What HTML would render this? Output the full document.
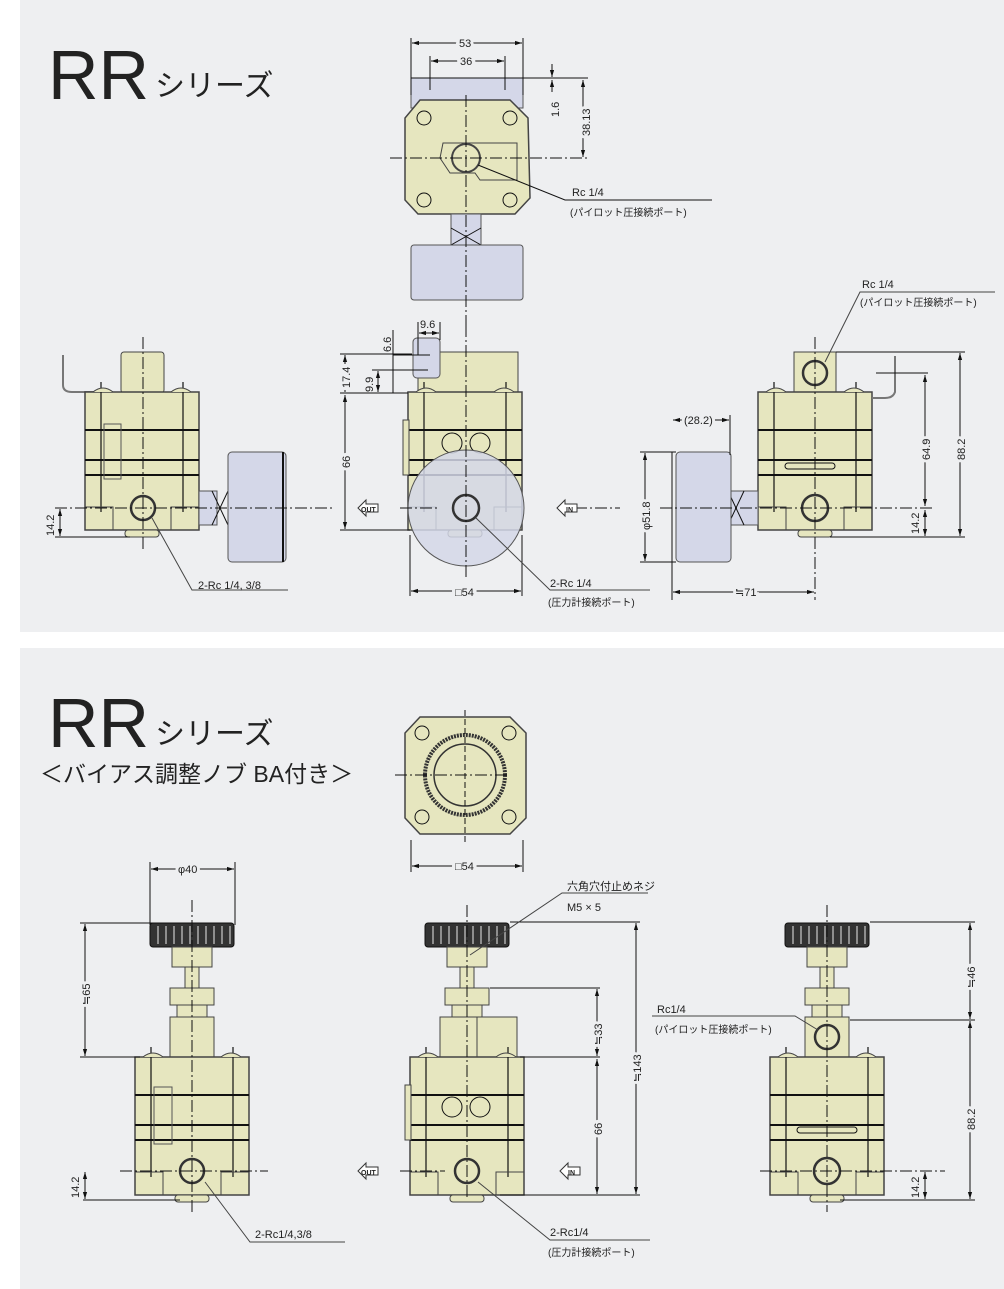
<!DOCTYPE html>
<html><head><meta charset="utf-8"><style>
body{margin:0;background:#fff;width:1004px;height:1289px;overflow:hidden}
svg{display:block}
text{font-family:"Liberation Sans","Noto Sans CJK JP",sans-serif;fill:#222}
</style></head><body>
<svg width="1004" height="1289" viewBox="0 0 1004 1289" xmlns="http://www.w3.org/2000/svg">
<defs>
<marker id="a" viewBox="0 0 10 10" refX="10" refY="5" markerWidth="7" markerHeight="7" orient="auto-start-reverse"><path d="M0,2 L10,5 L0,8z" fill="#111"/></marker>
<g id="body">
<rect x="0" y="0" width="114" height="138" fill="#e6e6bf" stroke="#444" stroke-width="1.5"/>
<line x1="0" y1="38" x2="114" y2="38" stroke="#111" stroke-width="2"/>
<line x1="0" y1="68" x2="114" y2="68" stroke="#111" stroke-width="2"/>
<line x1="0" y1="83" x2="114" y2="83" stroke="#111" stroke-width="2"/>
<line x1="16" y1="-10" x2="16" y2="120" stroke="#111" stroke-width="1.2"/>
<line x1="98" y1="-10" x2="98" y2="120" stroke="#111" stroke-width="1.2"/>
<path d="M0,115 H28 V138 M114,115 H86 V138" fill="none" stroke="#444"/>
<path d="M8,0 q10,-8 20,0 M86,0 q10,-8 20,0" fill="#e6e6bf" stroke="#444"/>
<rect x="40" y="138" width="34" height="7" rx="3" fill="#e6e6bf" stroke="#444"/>
</g>
<g id="knob">
<rect x="0" y="0" width="84" height="24" rx="3" fill="#333"/>
<g stroke="#ccc" stroke-width="1.2">
<line x1="8" y1="3" x2="8" y2="21"/><line x1="16" y1="3" x2="16" y2="21"/><line x1="24" y1="3" x2="24" y2="21"/><line x1="32" y1="3" x2="32" y2="21"/><line x1="40" y1="3" x2="40" y2="21"/><line x1="48" y1="3" x2="48" y2="21"/><line x1="56" y1="3" x2="56" y2="21"/><line x1="64" y1="3" x2="64" y2="21"/><line x1="72" y1="3" x2="72" y2="21"/><line x1="80" y1="3" x2="80" y2="21"/></g>
<rect x="22" y="24" width="40" height="20" fill="#e6e6bf" stroke="#444"/>
<rect x="35" y="44" width="14" height="21" fill="#e6e6bf" stroke="#444"/>
<rect x="20" y="65" width="44" height="17" fill="#e6e6bf" stroke="#444"/>
<rect x="27" y="82" width="30" height="12" fill="#e6e6bf" stroke="#444"/>
</g>
</defs>

<rect x="20" y="0" width="984" height="632" fill="#eeeff1"/>
<rect x="20" y="648" width="984" height="641" fill="#eeeff1"/>

<!-- titles -->
<text x="48" y="99" font-size="70">RR</text><text x="155" y="96" font-size="30">シリーズ</text>
<text x="48" y="747" font-size="70">RR</text><text x="155" y="744" font-size="30">シリーズ</text>
<text x="40" y="782" font-size="23">＜バイアス調整ノブ  BA付き＞</text>

<g stroke="#111" stroke-width="1" fill="none">
<!-- ===== TOP: top view ===== -->
<rect x="411" y="78" width="112" height="30" fill="#d4d7e8" stroke="#555"/>
<path d="M420,100 L510,100 L528,118 L530,198 L515,214 L418,214 L405,200 L405,118z" fill="#e6e6bf" stroke="#444" stroke-width="1.5"/>
<path d="M443,143 L517,143 L517,180 L480,180 L475,173 L450,173 L440,158z" fill="#e6e6bf" stroke="#444"/>
<circle cx="466" cy="158" r="14" fill="#e6e6bf" stroke="#444" stroke-width="2"/>
<circle cx="424" cy="118" r="7"/><circle cx="510" cy="118" r="7"/><circle cx="424" cy="200" r="7"/><circle cx="510" cy="200" r="7"/>
<rect x="451" y="214" width="30" height="31" fill="#d4d7e8" stroke="#555"/>
<path d="M451,228 L481,245 M481,228 L451,245"/>
<rect x="411" y="245" width="112" height="55" rx="3" fill="#d4d7e8" stroke="#555"/>
<line x1="466" y1="95" x2="466" y2="330" stroke-dasharray="12,3,2,3"/>
<line x1="390" y1="158" x2="590" y2="158" stroke-dasharray="12,3,2,3"/>
<line x1="411" y1="38" x2="411" y2="95"/><line x1="523" y1="38" x2="523" y2="95"/>
<line x1="412" y1="43" x2="522" y2="43" marker-start="url(#a)" marker-end="url(#a)"/>
<line x1="430" y1="56" x2="430" y2="90"/><line x1="505" y1="56" x2="505" y2="90"/>
<line x1="431" y1="61" x2="504" y2="61" marker-start="url(#a)" marker-end="url(#a)"/>
<line x1="411" y1="78" x2="588" y2="78"/>
<line x1="552" y1="64" x2="552" y2="77" marker-end="url(#a)"/><line x1="552" y1="92" x2="552" y2="80" marker-end="url(#a)"/>
<line x1="583" y1="80" x2="583" y2="157" marker-start="url(#a)" marker-end="url(#a)"/>
<path d="M478,165 L565,200 L712,200"/>

<!-- ===== TOP: left view ===== -->
<path d="M63,355 V385 Q63,392 72,392 H95" stroke="#777" stroke-width="2"/>
<rect x="121" y="352" width="43" height="41" rx="3" fill="#e6e6bf" stroke="#444"/>
<use href="#body" x="85" y="392"/>
<rect x="104" y="424" width="17" height="55" fill="none" stroke="#555"/>
<circle cx="143" cy="508" r="12" stroke-width="2.5" stroke="#333"/>
<rect x="199" y="491" width="18" height="34" fill="#d4d7e8" stroke="#555"/><path d="M212,491 L228,525 M228,491 L212,525"/>
<rect x="228" y="452" width="58" height="110" rx="4" fill="#d4d7e8" stroke="#555"/>
<line x1="283" y1="452" x2="283" y2="562" stroke-width="2"/>
<line x1="143" y1="337" x2="143" y2="550" stroke-dasharray="12,3,2,3"/>
<line x1="55" y1="508" x2="335" y2="508" stroke-dasharray="12,3,2,3"/>
<line x1="55" y1="537" x2="130" y2="537"/>
<line x1="60" y1="509" x2="60" y2="536" marker-start="url(#a)" marker-end="url(#a)"/>
<path d="M152,518 L192,590 L288,590" stroke="#444"/>

<!-- ===== TOP: front view ===== -->
<rect x="418" y="352" width="100" height="41" fill="#e6e6bf" stroke="#444"/>
<rect x="413" y="338" width="27" height="40" rx="4" fill="#d4d7e8" stroke="#555"/>
<use href="#body" x="408" y="392"/>
<rect x="403" y="420" width="6" height="55" fill="#e6e6bf" stroke="#444"/>
<circle cx="452" cy="443" r="10"/><circle cx="480" cy="443" r="10"/>
<circle cx="466" cy="508" r="58" fill="#d4d7e8" fill-opacity="0.85" stroke="#555"/>
<circle cx="466" cy="508" r="13" stroke-width="2.5" stroke="#333"/>
<line x1="466" y1="325" x2="466" y2="580" stroke-dasharray="12,3,2,3"/>
<line x1="575" y1="508" x2="620" y2="508" stroke-dasharray="12,3,2,3"/>
<line x1="400" y1="508" x2="440" y2="508" stroke-dasharray="12,3,2,3"/>
<line x1="340" y1="354" x2="412" y2="354"/><line x1="340" y1="393" x2="408" y2="393"/><line x1="340" y1="530" x2="410" y2="530"/>
<line x1="345" y1="355" x2="345" y2="392" marker-start="url(#a)" marker-end="url(#a)"/>
<line x1="345" y1="395" x2="345" y2="529" marker-start="url(#a)" marker-end="url(#a)"/>
<line x1="372" y1="370" x2="428" y2="370"/>
<line x1="378" y1="371" x2="378" y2="392" marker-start="url(#a)" marker-end="url(#a)"/>
<line x1="393" y1="355" x2="430" y2="355"/>
<line x1="393" y1="330" x2="393" y2="393" />
<line x1="418" y1="322" x2="418" y2="355"/><line x1="440" y1="322" x2="440" y2="340"/>
<line x1="419" y1="333" x2="439" y2="333" marker-start="url(#a)" marker-end="url(#a)"/>
<line x1="410" y1="535" x2="410" y2="596"/><line x1="522" y1="535" x2="522" y2="596"/>
<line x1="411" y1="591" x2="521" y2="591" marker-start="url(#a)" marker-end="url(#a)"/>
<path d="M476,518 L550,590 L650,590" stroke="#444"/>
<path d="M358,508 l8,-8 v4 h12 v8 h-12 v4z" fill="#fff" stroke="#333"/>
<path d="M557,508 l8,-8 v4 h12 v8 h-12 v4z" fill="#fff" stroke="#333"/>

<!-- ===== TOP: right view ===== -->
<rect x="794" y="352" width="42" height="41" fill="#e6e6bf" stroke="#444"/>
<circle cx="815" cy="373" r="12" stroke-width="2.5" stroke="#333"/>
<use href="#body" x="758" y="392"/>
<rect x="785" y="463" width="50" height="6" rx="3"/>
<circle cx="815" cy="508" r="13" stroke-width="2.5" stroke="#333"/>
<path d="M895,356 V392 Q893,398 885,398 H872" stroke="#777" stroke-width="2"/>
<rect x="730" y="491" width="28" height="34" fill="#d4d7e8" stroke="#555"/><path d="M728,491 L744,525 M744,491 L728,525"/>
<rect x="676" y="452" width="55" height="110" rx="4" fill="#d4d7e8" stroke="#555"/>
<line x1="672" y1="452" x2="672" y2="600"/>
<line x1="815" y1="337" x2="815" y2="600" stroke-dasharray="12,3,2,3"/>
<line x1="660" y1="508" x2="935" y2="508" stroke-dasharray="12,3,2,3"/>
<line x1="836" y1="352" x2="965" y2="352"/><line x1="876" y1="373" x2="928" y2="373"/><line x1="830" y1="537" x2="965" y2="537"/>
<line x1="960" y1="353" x2="960" y2="536" marker-start="url(#a)" marker-end="url(#a)"/>
<line x1="925" y1="375" x2="925" y2="506" marker-start="url(#a)" marker-end="url(#a)"/>
<line x1="925" y1="510" x2="925" y2="536" marker-start="url(#a)" marker-end="url(#a)"/>
<line x1="640" y1="452" x2="676" y2="452"/><line x1="640" y1="562" x2="676" y2="562"/>
<line x1="645" y1="453" x2="645" y2="561" marker-start="url(#a)" marker-end="url(#a)"/>
<line x1="730" y1="415" x2="730" y2="455"/>
<line x1="673" y1="420" x2="729" y2="420" marker-start="url(#a)" marker-end="url(#a)"/>
<line x1="673" y1="592" x2="814" y2="592" marker-start="url(#a)" marker-end="url(#a)"/>
<path d="M825,362 L860,292 L995,292" stroke="#444"/>

<!-- ===== BOTTOM: top view ===== -->
<path d="M420,717 L510,717 L526,733 L526,818 L510,834 L420,834 L405,818 L405,733z" fill="#e6e6bf" stroke="#444" stroke-width="1.5"/>
<circle cx="465" cy="775" r="40" fill="#e6e6bf" stroke="#333" stroke-width="4" stroke-dasharray="2,1"/>
<circle cx="465" cy="775" r="31" fill="#e6e6bf" stroke="#333" stroke-width="1.5"/>
<circle cx="422" cy="733" r="7"/><circle cx="509" cy="733" r="7"/><circle cx="422" cy="817" r="7"/><circle cx="509" cy="817" r="7"/>
<line x1="465" y1="710" x2="465" y2="845" stroke-dasharray="6,3"/>
<line x1="395" y1="775" x2="510" y2="775" stroke-dasharray="12,3,2,3"/>
<line x1="411" y1="840" x2="411" y2="872"/><line x1="523" y1="840" x2="523" y2="872"/>
<line x1="412" y1="866" x2="522" y2="866" marker-start="url(#a)" marker-end="url(#a)"/>

<!-- ===== BOTTOM: left ===== -->
<use href="#knob" x="150" y="923"/>
<rect x="170" y="1017" width="44" height="40" fill="#e6e6bf" stroke="#444"/>
<use href="#body" x="135" y="1057"/>
<rect x="154" y="1087" width="18" height="57" fill="none" stroke="#555"/>
<circle cx="192" cy="1171" r="12" stroke-width="2.5" stroke="#333"/>
<line x1="192" y1="900" x2="192" y2="1212" stroke-dasharray="12,3,2,3"/>
<line x1="120" y1="1171" x2="268" y2="1171" stroke-dasharray="12,3,2,3"/>
<line x1="150" y1="862" x2="150" y2="925"/><line x1="235" y1="862" x2="235" y2="925"/>
<line x1="151" y1="869" x2="234" y2="869" marker-start="url(#a)" marker-end="url(#a)"/>
<line x1="80" y1="923" x2="200" y2="923"/><line x1="80" y1="1057" x2="140" y2="1057"/>
<line x1="85" y1="924" x2="85" y2="1056" marker-start="url(#a)" marker-end="url(#a)"/>
<line x1="83" y1="1200" x2="180" y2="1200"/>
<line x1="85" y1="1172" x2="85" y2="1199" marker-start="url(#a)" marker-end="url(#a)"/>
<path d="M205,1182 L250,1242 L345,1242" stroke="#444"/>

<!-- ===== BOTTOM: middle ===== -->
<use href="#knob" x="425" y="923"/>
<rect x="440" y="1017" width="37" height="40" fill="#e6e6bf" stroke="#444"/>
<rect x="477" y="1017" width="40" height="40" fill="#e6e6bf" stroke="#444"/>
<use href="#body" x="410" y="1057"/>
<rect x="405" y="1085" width="6" height="55" fill="#e6e6bf" stroke="#444"/>
<circle cx="452" cy="1107" r="10"/><circle cx="480" cy="1107" r="10"/>
<circle cx="467" cy="1171" r="12" stroke-width="2.5" stroke="#333"/>
<line x1="467" y1="905" x2="467" y2="1200" stroke-dasharray="12,3,2,3"/>
<line x1="400" y1="1171" x2="445" y2="1171" stroke-dasharray="12,3,2,3"/>
<line x1="510" y1="922" x2="640" y2="922"/><line x1="490" y1="988" x2="600" y2="988"/><line x1="520" y1="1057" x2="600" y2="1057"/><line x1="500" y1="1195" x2="640" y2="1195"/>
<line x1="636" y1="923" x2="636" y2="1194" marker-start="url(#a)" marker-end="url(#a)"/>
<line x1="597" y1="989" x2="597" y2="1056" marker-start="url(#a)" marker-end="url(#a)"/>
<line x1="597" y1="1059" x2="597" y2="1194" marker-start="url(#a)" marker-end="url(#a)"/>
<path d="M470,955 L562,893 L648,893" stroke="#444"/>
<path d="M478,1182 L550,1240 L650,1240" stroke="#444"/>
<path d="M358,1171 l8,-8 v4 h12 v8 h-12 v4z" fill="#fff" stroke="#333"/>
<path d="M560,1171 l8,-8 v4 h12 v8 h-12 v4z" fill="#fff" stroke="#333"/>

<!-- ===== BOTTOM: right ===== -->
<use href="#knob" x="785" y="923"/>
<rect x="805" y="1017" width="44" height="40" fill="#e6e6bf" stroke="#444"/>
<circle cx="827" cy="1037" r="12" stroke-width="2.5" stroke="#333"/>
<use href="#body" x="770" y="1057"/>
<rect x="797" y="1127" width="60" height="6" rx="3"/>
<circle cx="827" cy="1171" r="13" stroke-width="2.5" stroke="#333"/>
<line x1="827" y1="905" x2="827" y2="1212" stroke-dasharray="12,3,2,3"/>
<line x1="760" y1="1171" x2="945" y2="1171" stroke-dasharray="12,3,2,3"/>
<line x1="870" y1="922" x2="975" y2="922"/><line x1="850" y1="1020" x2="975" y2="1020"/><line x1="840" y1="1200" x2="975" y2="1200"/>
<line x1="970" y1="923" x2="970" y2="1019" marker-start="url(#a)" marker-end="url(#a)"/>
<line x1="970" y1="1021" x2="970" y2="1199" marker-start="url(#a)" marker-end="url(#a)"/>
<line x1="925" y1="1172" x2="925" y2="1199" marker-start="url(#a)" marker-end="url(#a)"/>
<path d="M818,1030 L795,1016 L652,1016" stroke="#444"/>
</g>

<!-- dimension texts -->
<g font-size="11">
<text x="459" y="47" style="paint-order:stroke" stroke="#eeeff1" stroke-width="6">53</text>
<text x="460" y="65" style="paint-order:stroke" stroke="#eeeff1" stroke-width="6">36</text>
<text x="572" y="196">Rc 1/4</text><text x="570" y="216" font-size="10">(パイロット圧接続ポート)</text>
<text x="198" y="589">2-Rc 1/4, 3/8</text>
<text x="550" y="587">2-Rc 1/4</text><text x="548" y="606" font-size="10">(圧力計接続ポート)</text>
<text x="455" y="596" style="paint-order:stroke" stroke="#eeeff1" stroke-width="6">□54</text>
<text x="420" y="328">9.6</text>
<text x="862" y="288">Rc 1/4</text><text x="860" y="306" font-size="10">(パイロット圧接続ポート)</text>
<text x="684" y="424" style="paint-order:stroke" stroke="#eeeff1" stroke-width="6">(28.2)</text>
<text x="735" y="596" style="paint-order:stroke" stroke="#eeeff1" stroke-width="6">≒71</text>
<text x="361" y="512" font-size="7" font-weight="bold">OUT</text><text x="566" y="512" font-size="7" font-weight="bold">IN</text>
<text x="455" y="870" style="paint-order:stroke" stroke="#eeeff1" stroke-width="6">□54</text>
<text x="178" y="873" style="paint-order:stroke" stroke="#eeeff1" stroke-width="6">φ40</text>
<text x="567" y="890">六角穴付止めネジ</text><text x="567" y="911">M5 × 5</text>
<text x="255" y="1238">2-Rc1/4,3/8</text>
<text x="550" y="1236">2-Rc1/4</text><text x="548" y="1256" font-size="10">(圧力計接続ポート)</text>
<text x="657" y="1013">Rc1/4</text><text x="655" y="1033" font-size="10">(パイロット圧接続ポート)</text>
<text x="361" y="1175" font-size="7" font-weight="bold">OUT</text><text x="568" y="1175" font-size="7" font-weight="bold">IN</text>
</g>
<g font-size="11">
<text transform="translate(559,117) rotate(-90)">1.6</text>
<text transform="translate(590,136) rotate(-90)" style="paint-order:stroke" stroke="#eeeff1" stroke-width="6">38.13</text>
<text transform="translate(54,536) rotate(-90)">14.2</text>
<text transform="translate(350,388) rotate(-90)" style="paint-order:stroke" stroke="#eeeff1" stroke-width="6">17.4</text>
<text transform="translate(350,468) rotate(-90)" style="paint-order:stroke" stroke="#eeeff1" stroke-width="6">66</text>
<text transform="translate(373,392) rotate(-90)">9.9</text>
<text transform="translate(391,352) rotate(-90)">6.6</text>
<text transform="translate(965,460) rotate(-90)" style="paint-order:stroke" stroke="#eeeff1" stroke-width="6">88.2</text>
<text transform="translate(930,460) rotate(-90)" style="paint-order:stroke" stroke="#eeeff1" stroke-width="6">64.9</text>
<text transform="translate(919,534) rotate(-90)">14.2</text>
<text transform="translate(650,530) rotate(-90)" style="paint-order:stroke" stroke="#eeeff1" stroke-width="6">φ51.8</text>
<text transform="translate(90,1005) rotate(-90)" style="paint-order:stroke" stroke="#eeeff1" stroke-width="6">≒65</text>
<text transform="translate(79,1198) rotate(-90)">14.2</text>
<text transform="translate(602,1045) rotate(-90)" style="paint-order:stroke" stroke="#eeeff1" stroke-width="6">≒33</text>
<text transform="translate(602,1135) rotate(-90)" style="paint-order:stroke" stroke="#eeeff1" stroke-width="6">66</text>
<text transform="translate(641,1082) rotate(-90)" style="paint-order:stroke" stroke="#eeeff1" stroke-width="6">≒143</text>
<text transform="translate(975,988) rotate(-90)" style="paint-order:stroke" stroke="#eeeff1" stroke-width="6">≒46</text>
<text transform="translate(975,1130) rotate(-90)" style="paint-order:stroke" stroke="#eeeff1" stroke-width="6">88.2</text>
<text transform="translate(919,1198) rotate(-90)">14.2</text>
</g>
</svg>
</body></html>
